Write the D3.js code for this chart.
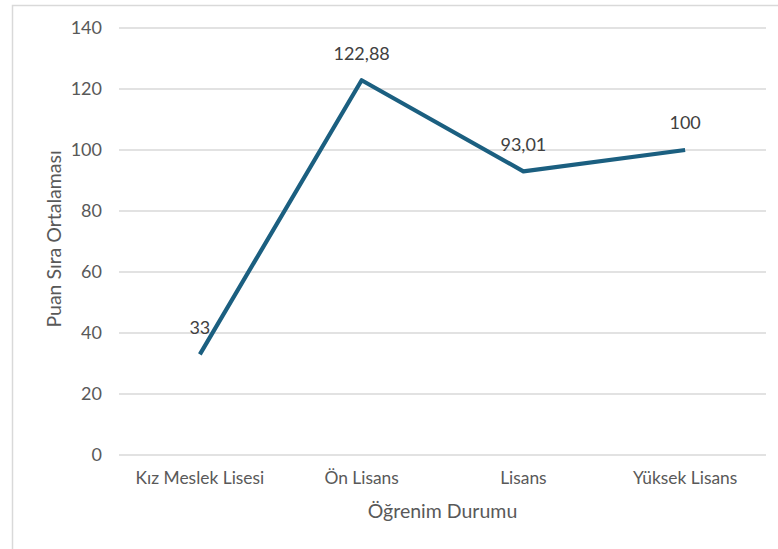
<!DOCTYPE html>
<html><head><meta charset="utf-8">
<script src="https://cdn.jsdelivr.net/npm/d3@7"></script>
<style>body{margin:0;background:#fff;} svg{display:block;}</style>
</head><body>
<svg id="c" width="778" height="549"></svg>
<script>
const categories = ["Kız Meslek Lisesi", "Ön Lisans", "Lisans", "Yüksek Lisans"];
const values = [33, 122.88, 93.01, 100];
const valueLabels = ["33", "122,88", "93,01", "100"];
const yTicks = [0, 20, 40, 60, 80, 100, 120, 140];
const xTitle = "Öğrenim Durumu";
const yTitle = "Puan Sıra Ortalaması";

const svg = d3.select("#c");
const font = "Aptos, Lato, 'Open Sans', sans-serif";
const L = 119, R = 766, T = 28, B = 455;

// outer border
svg.append("rect").attr("x", 12.5).attr("y", 5.5).attr("width", 800).attr("height", 600)
  .attr("fill", "none").attr("stroke", "#d9d9d9").attr("stroke-width", 1.5);

const x = d3.scaleBand().domain(categories).range([L, R]);
const y = d3.scaleLinear().domain([0, 140]).range([B, T]);

// gridlines
svg.append("g").selectAll("line").data(yTicks).join("line")
  .attr("x1", L).attr("x2", R)
  .attr("y1", d => y(d)).attr("y2", d => y(d))
  .attr("stroke", "#d9d9d9").attr("stroke-width", 1.3);

// y axis labels
const yAxis = svg.append("g").attr("transform", `translate(${L},0)`)
  .call(d3.axisLeft(y).tickValues(yTicks).tickSize(0).tickPadding(17));
yAxis.select(".domain").remove();
yAxis.selectAll("text").attr("font-family", font).attr("font-size", 18).attr("fill", "#595959");

// x axis labels
const xAxis = svg.append("g").attr("transform", `translate(0,${B})`)
  .call(d3.axisBottom(x).tickSize(0).tickPadding(17));
xAxis.select(".domain").remove();
xAxis.selectAll("text").attr("font-family", font).attr("font-size", 17.4).attr("fill", "#595959");

// line
const line = d3.line().x((d, i) => x(categories[i]) + x.bandwidth() / 2).y(d => y(d));
svg.append("path").datum(values).attr("d", line)
  .attr("fill", "none").attr("stroke", "#1b5f80").attr("stroke-width", 4.2)
  .attr("stroke-linejoin", "round").attr("stroke-linecap", "butt");

// data labels
svg.append("g").selectAll("text").data(values).join("text")
  .attr("x", (d, i) => x(categories[i]) + x.bandwidth() / 2)
  .attr("y", d => y(d) - 27)
  .attr("dy", "0.35em")
  .attr("text-anchor", "middle")
  .attr("font-family", font).attr("font-size", 18).attr("fill", "#404040")
  .text((d, i) => valueLabels[i]);

// axis titles
svg.append("text").attr("x", (L + R) / 2).attr("y", 511).attr("dy", "0.35em")
  .attr("text-anchor", "middle").attr("font-family", font).attr("font-size", 19.5).attr("fill", "#595959")
  .text(xTitle);
svg.append("text").attr("transform", `translate(54,239) rotate(-90)`).attr("dy", "0.35em")
  .attr("text-anchor", "middle").attr("font-family", font).attr("font-size", 19.5).attr("fill", "#595959")
  .text(yTitle);
</script>
</body></html>
